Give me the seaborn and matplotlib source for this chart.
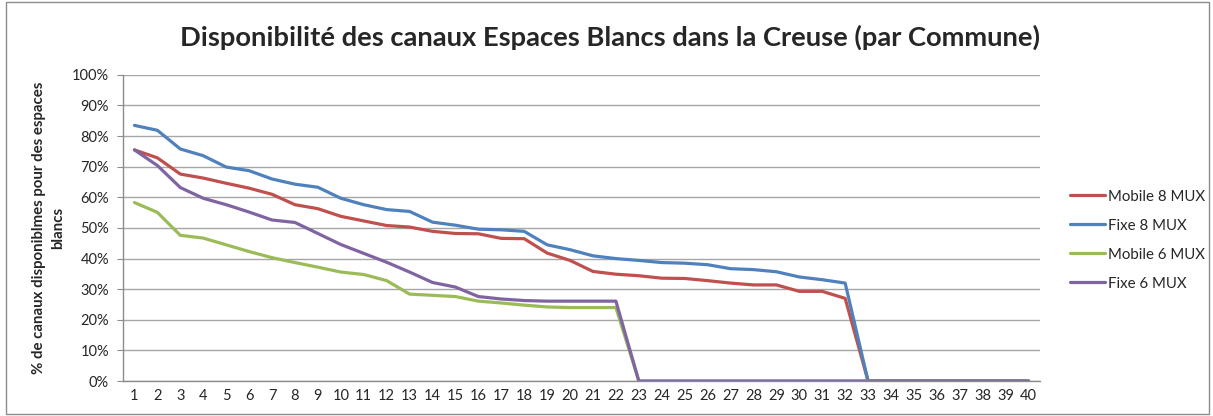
import pandas as pd
import matplotlib.pyplot as plt
import seaborn as sns
from matplotlib.ticker import PercentFormatter

# Values (% of channels), communes 1..40
communes = list(range(1, 41))
mobile_8 = [75.5, 72.9, 67.6, 66.3, 64.6, 63.0, 61.0, 57.6, 56.3, 53.8,
            52.3, 50.8, 50.3, 48.9, 48.2, 48.1, 46.6, 46.5, 41.8, 39.4,
            35.8, 34.9, 34.4, 33.6, 33.5, 32.8, 32.0, 31.4, 31.4, 29.3,
            29.3, 27.0, 0, 0, 0, 0, 0, 0, 0, 0]
fixe_8 = [83.5, 81.9, 75.8, 73.6, 69.9, 68.7, 66.0, 64.3, 63.3, 59.7,
          57.6, 56.0, 55.4, 51.9, 50.9, 49.6, 49.4, 48.9, 44.5, 42.9,
          40.9, 40.0, 39.4, 38.7, 38.5, 38.0, 36.7, 36.4, 35.7, 34.0,
          33.1, 32.0, 0, 0, 0, 0, 0, 0, 0, 0]
mobile_6 = [58.3, 55.1, 47.6, 46.7, 44.5, 42.3, 40.3, 38.7, 37.2, 35.6,
            34.8, 32.8, 28.4, 28.0, 27.6, 26.1, 25.5, 24.8, 24.2, 24.0,
            24.0, 24.0, 0, 0, 0, 0, 0, 0, 0, 0,
            0, 0, 0, 0, 0, 0, 0, 0, 0, 0]
fixe_6 = [75.5, 70.4, 63.2, 59.7, 57.6, 55.2, 52.6, 51.8, 48.2, 44.6,
          41.7, 38.8, 35.6, 32.2, 30.7, 27.6, 26.8, 26.3, 26.1, 26.1,
          26.1, 26.1, 0, 0, 0, 0, 0, 0, 0, 0,
          0, 0, 0, 0, 0, 0, 0, 0, 0, 0]

series = {'Mobile 8 MUX': mobile_8, 'Fixe 8 MUX': fixe_8,
          'Mobile 6 MUX': mobile_6, 'Fixe 6 MUX': fixe_6}
colors = ['#C0504D', '#4F81BD', '#9BBB59', '#8064A2']

df = pd.concat([pd.DataFrame({'commune': communes, 'pct': v, 'serie': k})
                for k, v in series.items()], ignore_index=True)

sns.set_style('white')
plt.rcParams['font.family'] = ['Lato', 'DejaVu Sans']

fig = plt.figure(figsize=(12.13, 4.16), dpi=100)
ax = fig.add_axes([0.1014, 0.084, 0.756, 0.736])

sns.lineplot(data=df, x='commune', y='pct', hue='serie', palette=colors,
             linewidth=2.3, ax=ax)

ax.set_xlim(0.5, 40.5)
ax.set_ylim(0, 100)
ax.set_xticks(communes)
ax.set_yticks(range(0, 101, 10))
ax.yaxis.set_major_formatter(PercentFormatter(decimals=0))
ax.grid(axis='y', color='#a6a6a6', linewidth=1)
ax.set_axisbelow(True)
for s in ['top', 'right']:
    ax.spines[s].set_visible(False)
for s in ['left', 'bottom']:
    ax.spines[s].set_color('#8c8c8c')
    ax.spines[s].set_linewidth(1)
ax.tick_params(axis='both', labelsize=10.5, length=0, pad=6)
ax.tick_params(axis='y', left=True, length=4, color='#8c8c8c', direction='out')
ax.set_xlabel('')
ax.set_ylabel('% de canaux disponiblmes pour des espaces\nblancs',
              fontsize=10.8, fontweight='bold', labelpad=5, linespacing=1.5)

fig.suptitle('Disponibilité des canaux Espaces Blancs dans la Creuse (par Commune)',
             fontsize=19.7, fontweight='bold', x=0.503, y=0.94)

leg = ax.legend(loc='center left', bbox_to_anchor=(1.018, 0.46), frameon=False,
                fontsize=10.8, handlelength=2.3, handletextpad=0.2,
                labelspacing=1.0)
for line in leg.get_lines():
    line.set_linewidth(2.3)

# chart border
fig.patches.append(plt.Rectangle((0.005, 0.004), 0.992, 0.99, transform=fig.transFigure,
                                 fill=False, edgecolor='#8c8c8c', linewidth=1))

fig.savefig('out.png', dpi=100)
